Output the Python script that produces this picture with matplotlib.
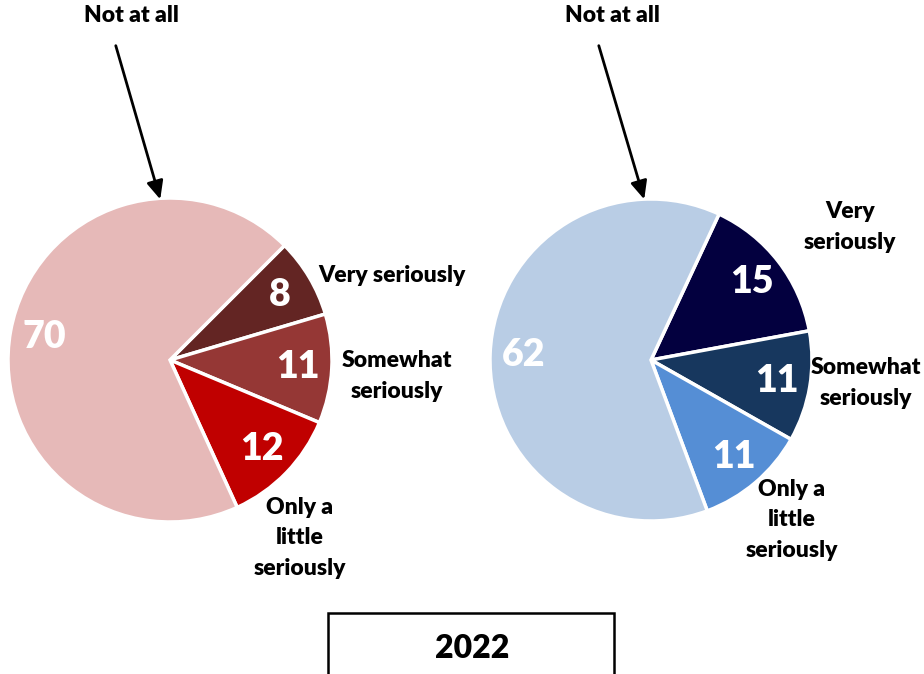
import matplotlib
matplotlib.use('Agg')
import matplotlib.pyplot as plt
from matplotlib.patches import Rectangle

plt.rcParams['font.family'] = ['Lato', 'DejaVu Sans']

# data
cats = ['Very seriously', 'Somewhat\nseriously', 'Only a\nlittle\nseriously', 'Not at all']
left_vals = [8, 11, 12, 70]
right_vals = [15, 11, 11, 62]
left_colors = ['#632523', '#953735', '#C00000', '#E6B9B8']
right_colors = ['#03003F', '#17375E', '#558ED5', '#B9CDE5']
year_label = '2022'

W, H = 924, 674
FW = 'heavy'
fig = plt.figure(figsize=(W / 100, H / 100), dpi=100)
ax = fig.add_axes([0, 0, 1, 1])


def draw_pie(vals, colors, cx, cy, r, start):
    wedges, texts, autotexts = ax.pie(
        vals, colors=colors, center=(cx, H - cy), radius=r,
        startangle=start, counterclock=False,
        autopct=lambda p: '%d' % round(p * sum(vals) / 100),
        pctdistance=0.79, frame=True,
        wedgeprops=dict(edgecolor='white', linewidth=2.5),
        textprops=dict(color='white', fontsize=27, fontweight=FW))
    return wedges


draw_pie(left_vals, left_colors, 170, 360, 162, 45)
draw_pie(right_vals, right_colors, 651, 360, 161, 65)
ax.set_xlim(0, W)
ax.set_ylim(0, H)
ax.set_aspect('equal')
ax.axis('off')

lab = dict(fontsize=16.5, fontweight=FW, ha='center', va='center', linespacing=1.55)
# left labels
ax.text(392, H - 275, cats[0], **lab)
ax.text(397, H - 376, cats[1], **lab)
ax.text(300, H - 538, cats[2], **lab)
# right labels
ax.text(850, H - 227, 'Very\nseriously', **lab)
ax.text(866, H - 383, cats[1], **lab)
ax.text(792, H - 520, cats[2], **lab)

# "Not at all" callouts
for tx, x0, x1 in [(131, 115, 161), (612, 598, 645)]:
    ax.text(tx, H - 15, cats[3], **lab)
    ax.annotate('', xy=(x1, H - 202), xytext=(x0, H - 43),
                arrowprops=dict(arrowstyle='-|>,head_length=1.1,head_width=0.5',
                                color='black', lw=2))

# year box
ax.add_patch(Rectangle((328, -10), 286, H - 613 + 10, fill=False,
                       edgecolor='black', lw=1.8, clip_on=False))
ax.text(472, H - 648, year_label, fontsize=23, fontweight=FW,
        ha='center', va='center')

fig.savefig('out.png', dpi=100)
